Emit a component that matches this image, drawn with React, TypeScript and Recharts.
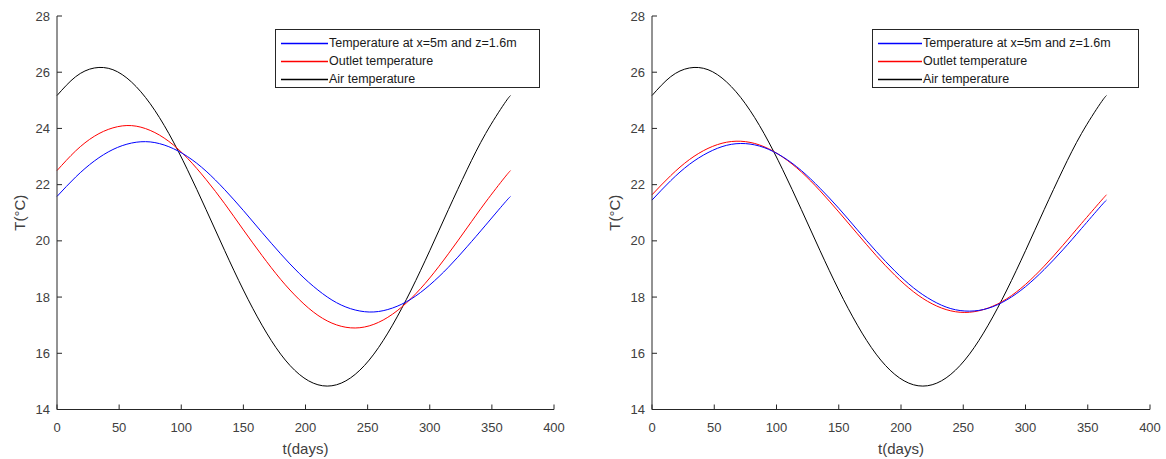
import { LineChart, Line, XAxis, YAxis } from "recharts";

const days = [0, 15, 30, 45, 60, 75, 90, 105, 120, 135, 150, 165, 180, 195, 210, 225, 240, 255, 270, 285, 300, 315, 330, 345, 360, 365];

const airTemp = [25.17, 25.84, 26.15, 26.09, 25.65, 24.88, 23.82, 22.53, 21.11, 19.65, 18.25, 17.0, 15.97, 15.25, 14.88, 14.88, 15.25, 15.97, 17.0, 18.25, 19.65, 21.11, 22.53, 23.82, 24.88, 25.17];

const leftNodeTemp = [21.58, 22.27, 22.84, 23.25, 23.48, 23.52, 23.35, 23.0, 22.48, 21.82, 21.08, 20.3, 19.54, 18.84, 18.25, 17.8, 17.54, 17.47, 17.61, 17.93, 18.43, 19.06, 19.79, 20.56, 21.34, 21.58];
const leftOutletTemp = [22.5, 23.2, 23.72, 24.02, 24.1, 23.93, 23.54, 22.94, 22.18, 21.32, 20.39, 19.48, 18.63, 17.91, 17.35, 17.01, 16.9, 17.03, 17.39, 17.95, 18.68, 19.54, 20.46, 21.38, 22.24, 22.5];

const rightNodeTemp = [21.45, 22.14, 22.72, 23.14, 23.4, 23.46, 23.32, 22.99, 22.5, 21.87, 21.16, 20.39, 19.63, 18.93, 18.33, 17.88, 17.59, 17.5, 17.6, 17.9, 18.37, 18.98, 19.68, 20.44, 21.21, 21.45];
const rightOutletTemp = [21.64, 22.32, 22.89, 23.29, 23.51, 23.53, 23.35, 22.98, 22.45, 21.78, 21.03, 20.25, 19.48, 18.78, 18.19, 17.76, 17.51, 17.46, 17.61, 17.94, 18.45, 19.1, 19.84, 20.62, 21.39, 21.64];

const xTicks = [0, 50, 100, 150, 200, 250, 300, 350, 400];
const yTicks = [14, 16, 18, 20, 22, 24, 26, 28];

const seriesNames = ["Temperature at x=5m and z=1.6m", "Outlet temperature", "Air temperature"];
const seriesColors = ["#0000ff", "#ff0000", "#000000"];

const FONT = "'Liberation Sans', Arial, sans-serif";
const AXIS = "#262626";
const TICK_TEXT = "#404040";

function buildRows(node: number[], outlet: number[]) {
  return days.map((d, i) => ({ t: d, node: node[i], outlet: outlet[i], air: airTemp[i] }));
}

interface PanelProps {
  rows: any[];
  left: number;
  marginLeft: number;
  marginRight: number;
  legendLeft: number;
  legendWidth: number;
  lineLen: number;
}

function Panel({ rows, left, marginLeft, marginRight, legendLeft, legendWidth, lineLen }: PanelProps) {
  return (
    <div style={{ position: "absolute", left, top: 0, width: 583, height: 459 }}>
      <LineChart width={583} height={459} data={rows} margin={{ top: 16, right: marginRight, left: marginLeft, bottom: 5.5 }}>
        <XAxis
          dataKey="t"
          type="number"
          domain={[0, 400]}
          ticks={xTicks}
          tickSize={-5}
          tickMargin={18}
          height={44}
          stroke={AXIS}
          tick={{ fontSize: 13, fill: TICK_TEXT, fontFamily: FONT }}
          label={{ value: "t(days)", position: "insideBottom", offset: 0, fill: TICK_TEXT, fontSize: 15, fontFamily: FONT }}
        />
        <YAxis
          type="number"
          domain={[14, 28]}
          ticks={yTicks}
          tickSize={-5}
          tickMargin={12}
          width={47}
          stroke={AXIS}
          tick={{ fontSize: 13, fill: TICK_TEXT, fontFamily: FONT }}
          label={{ value: "T(°C)", angle: -90, position: "insideLeft", offset: 10, fill: TICK_TEXT, fontSize: 15, fontFamily: FONT, style: { textAnchor: "middle" } }}
        />
        <Line dataKey="air" type="natural" stroke={seriesColors[2]} strokeWidth={1} dot={false} isAnimationActive={false} />
        <Line dataKey="outlet" type="natural" stroke={seriesColors[1]} strokeWidth={1} dot={false} isAnimationActive={false} />
        <Line dataKey="node" type="natural" stroke={seriesColors[0]} strokeWidth={1} dot={false} isAnimationActive={false} />
      </LineChart>

      {/* legend box, top-right inside the axes */}
      <div
        style={{
          position: "absolute",
          left: legendLeft,
          top: 29,
          width: legendWidth,
          height: 59,
          border: `1px solid ${AXIS}`,
          background: "#fff",
          fontFamily: FONT,
          fontSize: 12.5,
          color: "#1a1a1a",
          paddingTop: 4,
          boxSizing: "border-box",
        }}
      >
        {seriesNames.map((name, i) => (
          <div key={name} style={{ display: "flex", alignItems: "center", height: 18, paddingLeft: 5 }}>
            <svg width={lineLen} height={18} style={{ marginRight: 1, flex: "none" }}>
              <line x1={0} x2={lineLen} y1={9.5} y2={9.5} stroke={seriesColors[i]} strokeWidth={1.6} />
            </svg>
            <span style={{ whiteSpace: "nowrap" }}>{name}</span>
          </div>
        ))}
      </div>
    </div>
  );
}

export default function App() {
  const leftRows = buildRows(leftNodeTemp, leftOutletTemp);
  const rightRows = buildRows(rightNodeTemp, rightOutletTemp);
  return (
    <div style={{ position: "absolute", left: 0, top: 0, width: 1166, height: 459, background: "#fff", overflow: "hidden" }}>
      <Panel rows={leftRows} left={0} marginLeft={10} marginRight={29} legendLeft={275} legendWidth={265} lineLen={47} />
      <Panel rows={rightRows} left={583} marginLeft={22} marginRight={16} legendLeft={289} legendWidth={267} lineLen={44} />
    </div>
  );
}
